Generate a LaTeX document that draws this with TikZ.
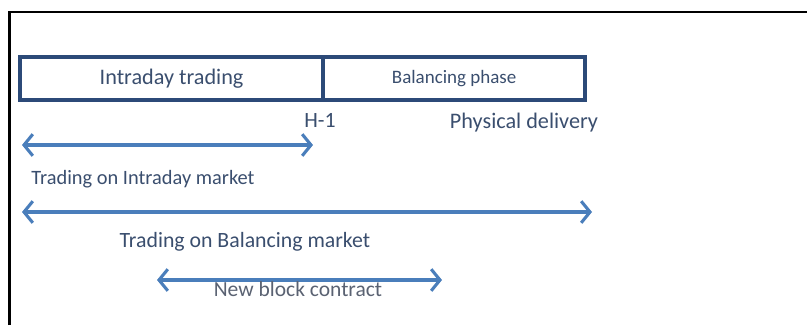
\documentclass[tikz,border=0pt]{standalone}
\usepackage{fontspec}
\setmainfont{Carlito}
\usepackage{tikz}
\usetikzlibrary{positioning}
\usetikzlibrary{arrows.meta}

\definecolor{phaseBorder}{HTML}{2C4A78}
\definecolor{labelText}{HTML}{3A4E6E}
\definecolor{spanArrow}{HTML}{4A7EBB}
\definecolor{blockText}{HTML}{5A6272}

\tikzset{
    phase/.style={draw=phaseBorder, line width=2.6pt, outer sep=0pt, inner sep=0pt,
                  minimum height=1.075cm, text=labelText},
    tag/.style={text=labelText, inner sep=0pt},
    span/.style={draw=spanArrow, line width=2.2pt,
                 {Straight Barb[length=2.2mm,width=5.4mm]}-{Straight Barb[length=2.2mm,width=5.4mm]}},
}

\begin{document}
\begin{tikzpicture}[x=0.025cm, y=-0.025cm]

    \useasboundingbox (0,0) rectangle (807,325);

    %Frame
    \draw[line width=2pt] (9.5,325) -- (9.5,12) -- (807,12);

    %Phases
    \node[phase, anchor=north west, minimum width=7.575cm, font=\fontsize{15.8}{18}\selectfont]
        (Intraday) at (20,57) {Intraday trading};
    \node[phase, right = 0cm of Intraday, minimum width=6.55cm, font=\fontsize{13.5}{16}\selectfont]
        (Balancing) {Balancing phase};

    %Time marks
    \node[tag, font=\fontsize{15.5}{18}\selectfont] (HourMark) at (320,120) {H-1};
    \node[tag, font=\fontsize{15.8}{18}\selectfont] (Delivery) at (524,123) {Physical delivery};

    %Spans
    \coordinate (IntraLeft)  at (22,145);
    \coordinate (IntraRight) at (313,145);
    \coordinate (BalLeft)    at (22,212);
    \coordinate (BalRight)   at (592,212);
    \coordinate (BlockLeft)  at (157,280);
    \coordinate (BlockRight) at (442,280);

    \draw[span] (IntraLeft) -- (IntraRight);
    \draw[span] (BalLeft) -- (BalRight);
    \draw[span] (BlockLeft) -- (BlockRight);

    %-------------------------------------------
    %Labels

    \node[tag, font=\fontsize{14.5}{17}\selectfont] (IntraLabel) at (143,179) {Trading on Intraday market};

    \node[tag, font=\fontsize{15.5}{18}\selectfont] (BalLabel) at (245,242) {Trading on Balancing market};

    \node[tag, text=blockText, font=\fontsize{15.3}{18}\selectfont] (BlockLabel) at (298,289) {New block contract};

\end{tikzpicture}
\end{document}
